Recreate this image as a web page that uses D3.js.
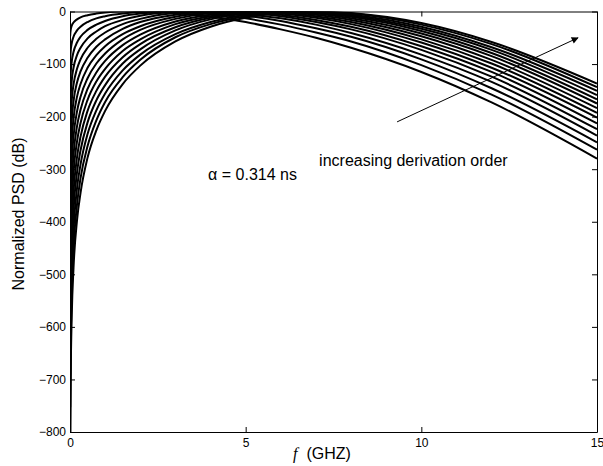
<!DOCTYPE html>
<html>
<head>
<meta charset="utf-8">
<script src="https://cdn.jsdelivr.net/npm/d3@7"></script>
<style>
  body { margin: 0; background: #fff; }
  svg { display: block; }
  text { font-family: "Liberation Sans", Arial, Helvetica, sans-serif; fill: #000; }
</style>
</head>
<body>
<svg id="chart"></svg>
<script>
// frequency samples (GHz) shared by every curve
const freqs = [0.005, 0.01, 0.02, 0.05, 0.1, 0.2, 0.3, 0.5, 0.75, 1, 1.5, 2, 3, 4, 5, 6, 7, 8, 10, 12, 15];

// normalized PSD (dB), one array per derivation order
const order1  = [-47, -41, -35, -27, -21, -15, -11, -7, -4, -2, 0, 0, -3, -10, -20, -34, -50, -69, -115, -173, -280];
const order2  = [-100, -88, -75, -60, -48, -36, -29, -20, -13, -9, -4, -1, -1, -5, -13, -25, -40, -57, -102, -158, -263];
const order3  = [-155, -137, -118, -95, -77, -59, -48, -35, -25, -18, -9, -4, 0, -2, -8, -18, -32, -48, -91, -146, -249];
const order4  = [-211, -187, -163, -131, -107, -83, -69, -51, -38, -28, -16, -8, -1, 0, -5, -13, -25, -41, -82, -134, -236];
const order5  = [-269, -239, -209, -169, -139, -109, -91, -69, -52, -40, -24, -14, -3, 0, -2, -9, -20, -34, -73, -124, -224];
const order6  = [-327, -291, -255, -207, -171, -135, -114, -88, -67, -53, -33, -20, -6, 0, -1, -6, -16, -29, -66, -115, -213];
const order7  = [-387, -344, -302, -247, -204, -162, -138, -107, -83, -66, -43, -28, -10, -2, 0, -4, -12, -24, -59, -107, -202];
const order8  = [-446, -398, -350, -286, -238, -190, -162, -127, -99, -80, -53, -35, -14, -3, 0, -2, -9, -20, -53, -99, -193];
const order9  = [-507, -453, -398, -327, -273, -218, -187, -147, -116, -94, -64, -44, -19, -6, 0, -1, -6, -16, -47, -92, -184];
const order10 = [-568, -507, -447, -368, -307, -247, -212, -168, -133, -109, -75, -53, -24, -9, -1, 0, -4, -13, -42, -85, -175];
const order11 = [-629, -563, -497, -409, -343, -277, -238, -189, -151, -124, -87, -62, -30, -12, -3, 0, -3, -10, -37, -79, -167];
const order12 = [-691, -618, -546, -451, -378, -306, -264, -211, -169, -140, -99, -72, -36, -15, -4, 0, -2, -8, -33, -73, -159];
const order13 = [-753, -675, -596, -493, -415, -336, -291, -233, -188, -156, -112, -82, -43, -20, -6, -1, -1, -6, -29, -68, -151];
const order14 = [-815, -731, -647, -535, -451, -367, -317, -256, -207, -172, -125, -92, -49, -24, -9, -1, 0, -4, -25, -62, -144];
const order15 = [-878, -788, -697, -578, -488, -397, -345, -278, -226, -189, -138, -103, -57, -29, -12, -3, 0, -3, -22, -58, -137];

const series = [order1, order2, order3, order4, order5, order6, order7, order8,
  order9, order10, order11, order12, order13, order14, order15];

const xTicks = [0, 5, 10, 15];
const yTicks = [0, -100, -200, -300, -400, -500, -600, -700, -800];

const width = 603;
const height = 466;
const plotLeft = 70, plotRight = 597, plotTop = 11.5, plotBottom = 432;

const x = d3.scaleLinear().domain([0, 15]).range([plotLeft, plotRight]);
const y = d3.scaleLinear().domain([-800, 0]).range([plotBottom, plotTop]);

const svg = d3.select('#chart')
  .attr('width', width)
  .attr('height', height);

svg.append('clipPath')
  .attr('id', 'plot-clip')
  .append('rect')
  .attr('x', plotLeft)
  .attr('y', plotTop)
  .attr('width', plotRight - plotLeft)
  .attr('height', plotBottom - plotTop);

const line = d3.line()
  .x((d, i) => x(freqs[i]))
  .y(d => y(d))
  .curve(d3.curveMonotoneX);

svg.append('g')
  .attr('clip-path', 'url(#plot-clip)')
  .selectAll('path')
  .data(series)
  .enter()
  .append('path')
  .attr('fill', 'none')
  .attr('stroke', '#000')
  .attr('stroke-width', 2)
  .attr('d', line);

// axes, matlab style: ticks inside on all four sides
const axisFont = '12px';
const tickLen = 5;

const xAxis = svg.append('g')
  .attr('transform', 'translate(0,' + plotBottom + ')')
  .call(d3.axisBottom(x).tickValues(xTicks).tickSizeInner(-tickLen).tickSizeOuter(0).tickPadding(6));
const yAxis = svg.append('g')
  .attr('transform', 'translate(' + plotLeft + ',0)')
  .call(d3.axisLeft(y).tickValues(yTicks).tickSizeInner(-tickLen).tickSizeOuter(0).tickPadding(4));
const xTop = svg.append('g')
  .attr('transform', 'translate(0,' + plotTop + ')')
  .call(d3.axisTop(x).tickValues(xTicks).tickSizeInner(-tickLen).tickSizeOuter(0).tickFormat(''));
const yRight = svg.append('g')
  .attr('transform', 'translate(' + plotRight + ',0)')
  .call(d3.axisRight(y).tickValues(yTicks).tickSizeInner(-tickLen).tickSizeOuter(0).tickFormat(''));

[xAxis, yAxis, xTop, yRight].forEach(function (g) {
  g.select('.domain').attr('stroke', '#000').attr('stroke-width', 1);
  g.selectAll('.tick line').attr('stroke', '#000');
  g.selectAll('.tick text')
    .style('font-family', '"Liberation Sans", Arial, sans-serif')
    .style('font-size', axisFont)
    .attr('fill', '#000');
});

// axis titles
svg.append('text')
  .attr('transform', 'translate(24,214) rotate(-90)')
  .attr('text-anchor', 'middle')
  .style('font-size', '16px')
  .text('Normalized PSD (dB)');

const xTitle = svg.append('text')
  .attr('x', 322)
  .attr('y', 459)
  .attr('text-anchor', 'middle')
  .style('font-size', '16px');
xTitle.append('tspan')
  .style('font-family', '"Liberation Serif", "Times New Roman", serif')
  .style('font-style', 'italic')
  .text('f');
xTitle.append('tspan').text('\u00a0\u00a0(GHZ)');

// annotations (data coordinates)
const alphaLabel = { f: 3.93, db: -321, text: '\u03b1 = 0.314 ns' };
const orderLabel = { f: 7.09, db: -294, text: 'increasing derivation order' };
const arrowFrom = { f: 9.31, db: -210 };
const arrowTo = { f: 14.46, db: -50 };

svg.append('text')
  .attr('x', x(alphaLabel.f))
  .attr('y', y(alphaLabel.db))
  .style('font-size', '16px')
  .text(alphaLabel.text);

svg.append('text')
  .attr('x', x(orderLabel.f))
  .attr('y', y(orderLabel.db))
  .style('font-size', '16px')
  .text(orderLabel.text);

svg.append('defs').append('marker')
  .attr('id', 'head')
  .attr('viewBox', '0 0 10 10')
  .attr('refX', 9)
  .attr('refY', 5)
  .attr('markerWidth', 9)
  .attr('markerHeight', 7)
  .attr('markerUnits', 'userSpaceOnUse')
  .attr('orient', 'auto')
  .append('path')
  .attr('d', 'M0,0 L10,5 L0,10 z')
  .attr('fill', '#000');

svg.append('line')
  .attr('x1', x(arrowFrom.f))
  .attr('y1', y(arrowFrom.db))
  .attr('x2', x(arrowTo.f))
  .attr('y2', y(arrowTo.db))
  .attr('stroke', '#000')
  .attr('stroke-width', 1)
  .attr('marker-end', 'url(#head)');
</script>
</body>
</html>
